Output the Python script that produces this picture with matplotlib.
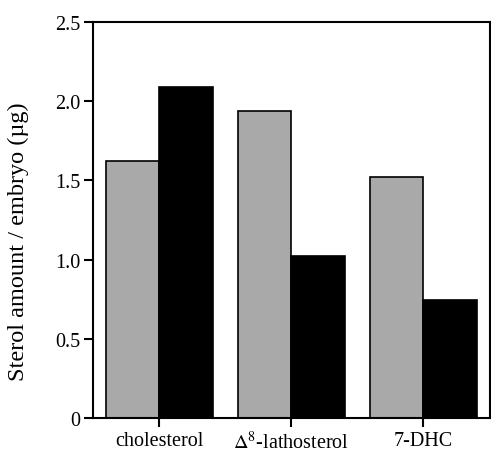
import numpy as np
import matplotlib.pyplot as plt

plt.rcParams['font.family'] = ['Liberation Serif', 'DejaVu Serif']
plt.rcParams['mathtext.fontset'] = 'stix'

sterols = ['cholesterol', r'$\Delta^{8}$-lathosterol', '7-DHC']
gray_values = [1.62, 1.94, 1.52]
black_values = [2.09, 1.02, 0.745]
y_ticks = [0, 0.5, 1.0, 1.5, 2.0, 2.5]
y_labels = ['0', '0.5', '1.0', '1.5', '2.0', '2.5']

fig = plt.figure(figsize=(4.91, 4.56), dpi=100)
ax = fig.add_axes([0.19, 0.081, 0.807, 0.869])

x = np.arange(len(sterols))
w = 0.405
ax.bar(x - w / 2, gray_values, w, color='#a9a9a9', edgecolor='black', linewidth=1.2)
ax.bar(x + w / 2, black_values, w, color='black', edgecolor='black', linewidth=1.2)

ax.set_xlim(-0.5, 2.5)
ax.set_ylim(0, 2.5)
ax.set_xticks(x)
ax.set_xticklabels(sterols, fontsize=14.5)
ax.set_yticks(y_ticks)
ax.set_yticklabels(y_labels, fontsize=14.5)
ax.tick_params(direction='out', length=6.5, width=1.5, pad=3)
ax.set_ylabel('Sterol amount / embryo (\u00b5g)', fontsize=17.5)
ax.yaxis.set_label_coords(-0.162, 0.447)
for s in ax.spines.values():
    s.set_linewidth(1.5)

fig.savefig('out.png', dpi=100)
